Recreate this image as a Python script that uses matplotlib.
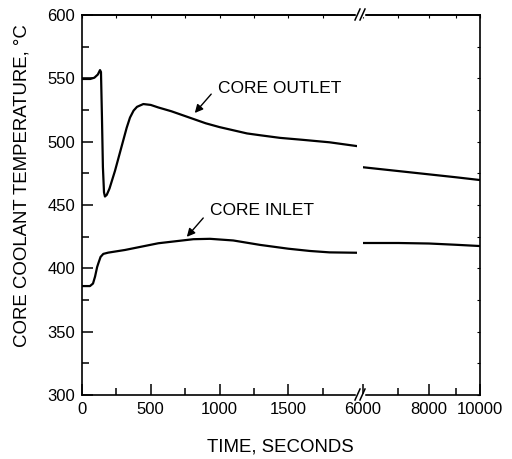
import matplotlib.pyplot as plt
import numpy as np

plt.rcParams['font.family'] = ['Liberation Sans', 'DejaVu Sans']

# temperaturas (graus C), tempo em segundos
t_out_a = [0, 60, 90, 115, 131, 138, 145, 152, 160, 167, 180, 200, 240, 270, 300, 325,
           349, 375, 400, 446, 500, 555, 650, 808, 900, 1000, 1100, 1200, 1300, 1440,
           1600, 1800, 2000]
T_out_a = [549.5, 549.5, 550.5, 553, 556.5, 555, 520, 480, 460, 456.7, 458, 463, 477,
           489, 501, 511, 519, 524.5, 527.5, 529.7, 529, 527, 524, 518, 514.5, 511.5,
           509, 506.5, 505, 503, 501.5, 499.5, 496.5]
t_out_b = [6000, 7000, 8000, 9000, 10000]
T_out_b = [479.8, 476.8, 474.2, 471.9, 469.7]

t_in_a = [0, 58, 80, 95, 110, 119, 135, 155, 191, 313, 555, 810, 931, 1100, 1295,
          1500, 1658, 1800, 2000]
T_in_a = [386, 386, 388, 393.5, 401, 404, 409, 411.4, 412.4, 414.5, 419.8, 423, 423.3,
          422, 418.5, 415.5, 413.7, 412.6, 412.3]
t_in_b = [6000, 7000, 8000, 9000, 10000]
T_in_b = [420, 420, 419.6, 418.6, 417.6]

fig = plt.figure(figsize=(5.12, 4.59), dpi=100)
ax1 = fig.add_axes([82/512, 1 - 395/459, (357 - 82)/512, 380/459])
ax2 = fig.add_axes([363/512, 1 - 395/459, (480 - 363)/512, 380/459], sharey=ax1)

lw = 1.6
ax1.plot(t_out_a, T_out_a, color='k', lw=lw)
ax1.plot(t_in_a, T_in_a, color='k', lw=lw)
ax2.plot(t_out_b, T_out_b, color='k', lw=lw)
ax2.plot(t_in_b, T_in_b, color='k', lw=lw)

ax1.set_xlim(0, 2000)
ax1.set_ylim(300, 600)
ax1.set_xticks([0, 500, 1000, 1500])
ax1.set_xticks([250, 750, 1250, 1750], minor=True)
ax1.set_yticks(np.arange(300, 601, 50))
ax1.set_yticks(np.arange(325, 600, 50), minor=True)

ax2.set_xscale('log')
ax2.set_xlim(6000, 10000)
ax2.set_xticks([6000, 8000, 10000])
ax2.set_xticklabels(['6000', '8000', '10000'])
ax2.set_xticks([7000, 9000], minor=True)
ax2.xaxis.set_minor_formatter(plt.NullFormatter())

for ax in (ax1, ax2):
    for s in ax.spines.values():
        s.set_linewidth(1.2)
    ax.tick_params(which='both', direction='in', labelsize=12, width=1.1, pad=5)
    ax.tick_params(which='major', length=8)
    ax.tick_params(which='minor', length=5)
    top = ax.secondary_xaxis('top')
    top.set_xticks(ax.get_xticks())
    top.set_xticks(ax.get_xticks(minor=True), minor=True)
    top.tick_params(which='both', direction='in', length=2.5, labeltop=False, width=0.8)
    top.xaxis.set_minor_formatter(plt.NullFormatter())
    top.xaxis.set_major_formatter(plt.NullFormatter())
    top.spines['top'].set_linewidth(1.2)

ax1.spines['right'].set_visible(False)
ax2.spines['left'].set_visible(False)
ax2.tick_params(axis='y', which='both', left=False, right=True, labelleft=False,
                length=2.5, width=0.8)

fig.text(22/512, 1 - 186/459, 'CORE COOLANT TEMPERATURE, \u00b0C', fontsize=13.4,
         rotation=90, ha='center', va='center')
fig.text(280/512, 1 - 447/459, 'TIME, SECONDS', fontsize=13.4, ha='center', va='center')

# marcas de quebra do eixo
for yb in (395, 15):
    fig.add_artist(plt.Line2D([357/512, 363/512], [1 - yb/459, 1 - yb/459],
                              color='w', lw=2.5, zorder=5))
    for x0 in (355, 360):
        fig.add_artist(plt.Line2D([x0/512, (x0 + 5)/512],
                                  [1 - (yb + 5)/459, 1 - (yb - 6)/459],
                                  color='k', lw=1.1, zorder=6))

ax1.text(989, 541.6, 'CORE OUTLET', fontsize=12.5, va='center', ha='left')
ax1.annotate('', xy=(807, 521), xytext=(953, 539.2),
             arrowprops=dict(arrowstyle='-|>', color='k', lw=1, mutation_scale=12))
ax1.text(931, 445.3, 'CORE INLET', fontsize=12.5, va='center', ha='left')
ax1.annotate('', xy=(749, 423.2), xytext=(895, 441.4),
             arrowprops=dict(arrowstyle='-|>', color='k', lw=1, mutation_scale=12))

fig.savefig('out.png', dpi=100)
